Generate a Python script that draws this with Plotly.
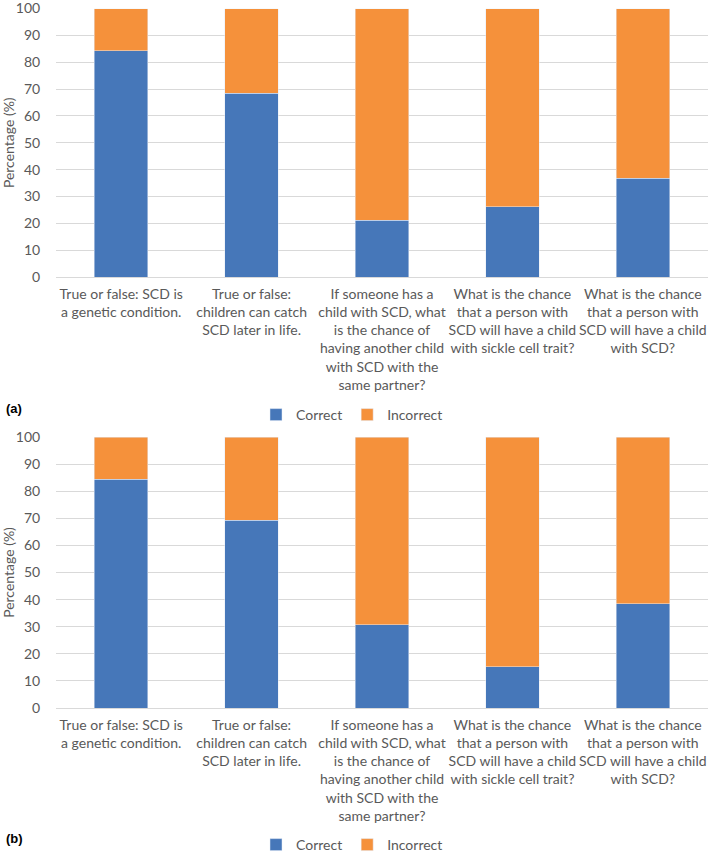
import plotly.graph_objects as go

categories = [
    "True or false: SCD is<br>a genetic condition.",
    "True or false:<br>children can catch<br>SCD later in life.",
    "If someone has a<br>child with SCD, what<br>is the chance of<br>having another child<br>with SCD with the<br>same partner?",
    "What is the chance<br>that a person with<br>SCD will have a child<br>with sickle cell trait?",
    "What is the chance<br>that a person with<br>SCD will have a child<br>with SCD?",
]
a_correct = [84.2, 68.4, 21.1, 26.2, 36.7]
a_incorrect = [15.8, 31.6, 78.9, 73.8, 63.3]
b_correct = [84.5, 69.2, 30.7, 15.3, 38.5]
b_incorrect = [15.5, 30.8, 69.3, 84.7, 61.5]
y_ticks = [0, 10, 20, 30, 40, 50, 60, 70, 80, 90, 100]

BLUE = "#4677B9"
ORANGE = "#F5913B"
FONT = "Lato"
W, H = 709, 854

fig = go.Figure()
fig.add_trace(go.Bar(x=categories, y=a_correct, name="Correct", marker_color=BLUE,
                     xaxis="x", yaxis="y", legend="legend", width=0.41))
fig.add_trace(go.Bar(x=categories, y=a_incorrect, name="Incorrect", marker_color=ORANGE,
                     xaxis="x", yaxis="y", legend="legend", width=0.41))
fig.add_trace(go.Bar(x=categories, y=b_correct, name="Correct", marker_color=BLUE,
                     xaxis="x2", yaxis="y2", legend="legend2", width=0.41))
fig.add_trace(go.Bar(x=categories, y=b_incorrect, name="Incorrect", marker_color=ORANGE,
                     xaxis="x2", yaxis="y2", legend="legend2", width=0.41))

xdom = [56 / W, 708 / W]
top_dom = [1 - 277 / H, 1 - 8.5 / H]
bot_dom = [1 - 708 / H, 1 - 437 / H]

xcommon = dict(domain=xdom, showgrid=False, showline=False, zeroline=False, automargin=False,
               tickfont=dict(family=FONT, size=14, color="#595959"), ticks="outside",
               ticklen=4, tickcolor="rgba(0,0,0,0)", fixedrange=True,
               ticklabeloverflow="allow")
ycommon = dict(range=[0, 100], tickvals=y_ticks, showgrid=True, gridcolor="#D9D9D9",
               gridwidth=1, zeroline=True, zerolinecolor="#D9D9D9", zerolinewidth=1,
               showline=False, ticks="outside", ticklen=12, tickcolor="rgba(0,0,0,0)",
               automargin=False, ticklabeloverflow="allow", fixedrange=True,
               tickfont=dict(family=FONT, size=14, color="#595959"),
               title=dict(text="Percentage (%)", font=dict(family=FONT, size=14, color="#595959"),
                          standoff=8))

legcommon = dict(orientation="h", xanchor="center", yanchor="middle", x=352 / W,
                 font=dict(family=FONT, size=14, color="#595959"),
                 bgcolor="rgba(0,0,0,0)", itemwidth=30, traceorder="normal")

fig.update_layout(
    width=W, height=H, barmode="stack",
    margin=dict(l=0, r=0, t=0, b=0, autoexpand=False),
    paper_bgcolor="white", plot_bgcolor="white",
    font=dict(family=FONT, size=14, color="#595959"),
    xaxis=dict(**xcommon, anchor="y"),
    yaxis=dict(**ycommon, domain=top_dom, anchor="x"),
    xaxis2=dict(**xcommon, anchor="y2"),
    yaxis2=dict(**ycommon, domain=bot_dom, anchor="x2"),
    legend=dict(**legcommon, y=1 - 415 / H),
    legend2=dict(**legcommon, y=1 - 845 / H),
    annotations=[
        dict(text="<b>(a)</b>", x=4 / W, y=1 - 408 / H, xref="paper", yref="paper",
             xanchor="left", yanchor="middle", showarrow=False,
             font=dict(family="Liberation Sans", size=13, color="black")),
        dict(text="<b>(b)</b>", x=4 / W, y=1 - 838 / H, xref="paper", yref="paper",
             xanchor="left", yanchor="middle", showarrow=False,
             font=dict(family="Liberation Sans", size=13, color="black")),
    ],
)

fig.write_html(
    "out.html",
    config={"displayModeBar": False},
    post_script="document.body.style.margin='0';document.body.style.overflow='hidden';",
)
